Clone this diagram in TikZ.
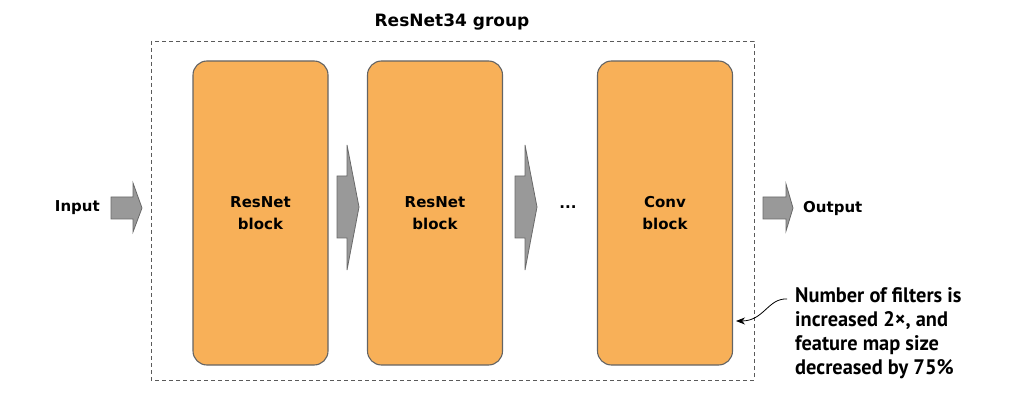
\documentclass[tikz,border=0pt]{standalone}
\usepackage{fontspec}
\setmainfont{DejaVu Sans}
\newfontfamily\annfont[FakeStretch=0.97]{PT Sans}
\usetikzlibrary{arrows.meta}
\definecolor{blockorange}{RGB}{248,176,88}
\definecolor{blockedge}{RGB}{100,100,100}
\definecolor{arrowfill}{RGB}{153,153,153}
\definecolor{arrowedge}{RGB}{105,105,105}
\definecolor{boxedge}{RGB}{90,90,90}
\tikzset{
  resblock/.style={draw=blockedge, line width=1.1pt, fill=blockorange, rounded corners=14pt,
    minimum width=135pt, minimum height=304pt, align=center, inner sep=0pt,
    font=\fontsize{15}{22}\selectfont\bfseries},
  fatarrow/.style={draw=arrowedge, line width=0.8pt, fill=arrowfill, line join=miter},
  grouptitle/.style={font=\fontsize{17}{20}\selectfont\bfseries},
  iolabel/.style={font=\fontsize{15}{18}\selectfont\bfseries, inner sep=0pt},
  groupbox/.style={draw=boxedge, line width=0.8pt, dash pattern=on 4pt off 3pt},
  annot/.style={font=\fontsize{21}{24}\annfont\bfseries, align=left, inner sep=0pt},
  callout/.style={draw=black, line width=0.8pt, -{Stealth[length=9pt,width=7pt]}}
}
\begin{document}
\begin{tikzpicture}[x=1pt,y=-1pt]
\useasboundingbox (0,0) rectangle (1011,403);
% group box
\draw[groupbox] (151,41) rectangle (754,380);
\node[grouptitle] (title) at (452,22) {ResNet34 group};
% blocks
\node[resblock] (b1) at (260.5,213) {ResNet\\block};
\node[resblock] (b2) at (435,213) {ResNet\\block};
\node[resblock] (b3) at (665,213) {Conv\\block};
% block arrows
\draw[fatarrow] (111,197) -- (133,197) -- (133,183) -- (142,208) -- (133,232) -- (133,219) -- (111,219) -- cycle;
\draw[fatarrow] (337,176) -- (347,176) -- (347,145) -- (359,207) -- (347,270) -- (347,238) -- (337,238) -- cycle;
\draw[fatarrow] (515,176) -- (525,176) -- (525,145) -- (537,207) -- (525,270) -- (525,238) -- (515,238) -- cycle;
\draw[fatarrow] (763,197) -- (786,197) -- (786,184) -- (793,208) -- (786,231) -- (786,219) -- (763,219) -- cycle;
% labels
\node[iolabel, anchor=east] (input) at (100,208) {Input};
\node[iolabel, anchor=west] (output) at (803,208) {Output};
\node[font=\fontsize{15}{18}\selectfont\bfseries] (dots) at (568,207) {...};
% annotation
\node[annot, anchor=north west] (note) at (795,287) {Number of filters is\\increased 2×, and\\feature map size\\decreased by 75\%};
\coordinate (cstart) at (787,299);
\coordinate (tip) at (736,321);
\draw[callout] (cstart) .. controls (768,298) and (764,321) .. (tip);
\end{tikzpicture}
\end{document}
